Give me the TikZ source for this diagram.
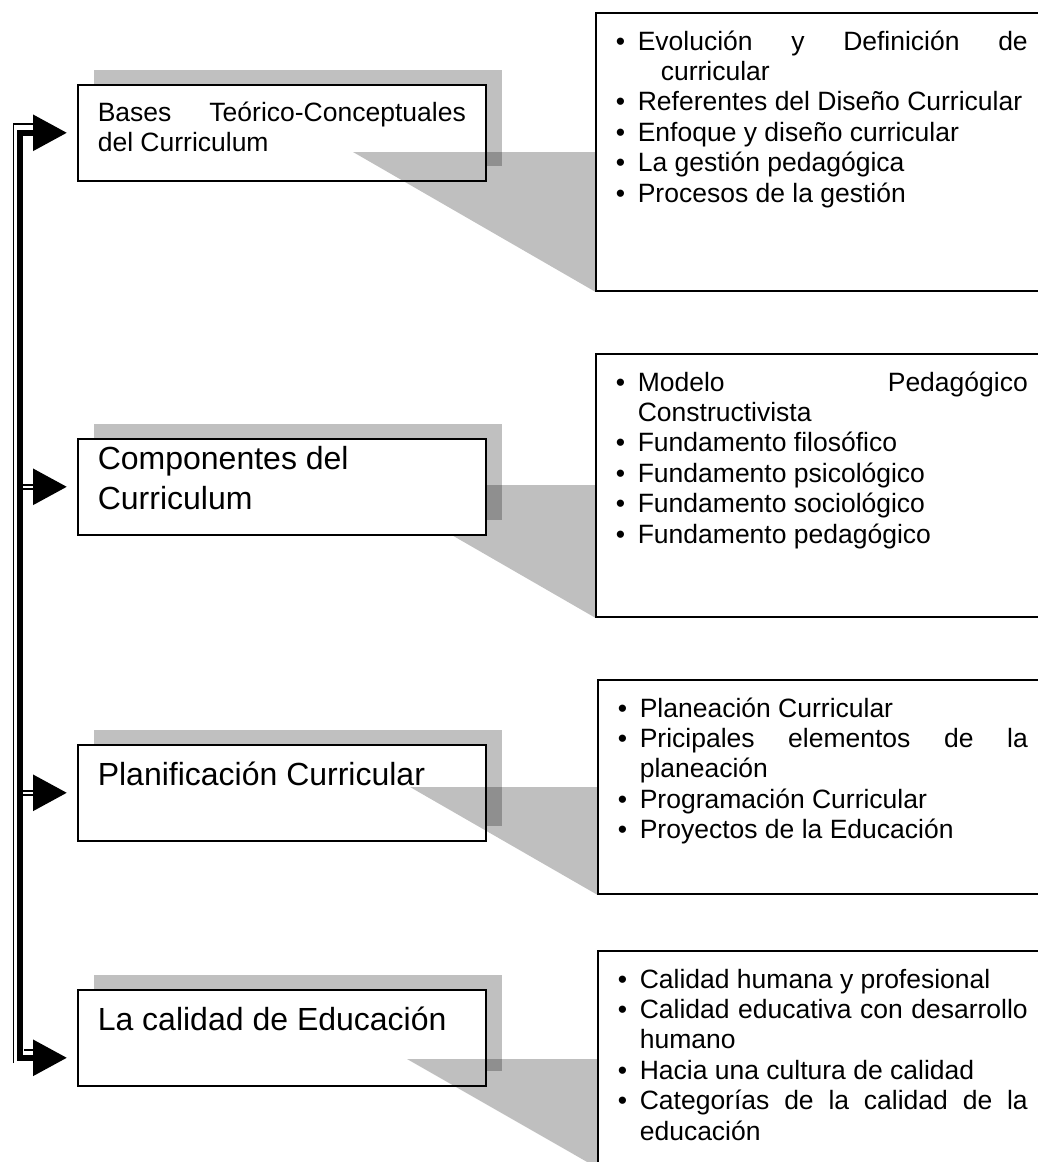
\documentclass[tikz,border=0pt]{standalone}
\usepackage{fontspec}
\setmainfont{Liberation Sans}
\usetikzlibrary{arrows.meta,shadows}
\definecolor{shadowgray}{RGB}{192,192,192}
\newcommand{\topbox}[4]{\parbox[c][#1][t]{#2}{\vspace*{#3}#4}}
\newcommand{\bitem}[1]{\par\noindent\hangindent=22pt\hangafter=1\makebox[22pt][l]{\textbullet}#1}
\hyphenpenalty=10000
\tolerance=10000

\begin{document}
\begin{tikzpicture}[x=1pt,y=-1pt,
  topic/.style={draw,line width=1.6pt,fill=white,anchor=north west,inner xsep=20pt,inner ysep=0pt,
    drop shadow={shadow xshift=16pt,shadow yshift=15pt,fill=shadowgray,opacity=1}},
  detail/.style={draw,line width=1.6pt,fill=white,anchor=north west,inner xsep=20pt,inner ysep=0pt},
  callout/.style={fill=black,fill opacity=0.25},
  spine/.style={line width=6pt,{Triangle[length=34pt,width=35pt]}-{Triangle[length=34pt,width=35pt]},
    shorten <=10pt,shorten >=10pt},
  link/.style={line width=6pt,-{Triangle[length=34pt,width=35pt]},shorten >=10pt}]
\useasboundingbox (0,0) rectangle (1038,1162);
\clip (0,0) rectangle (1038,1162);

% right hand boxes
\node[detail] (r1) at (595,12) {\topbox{278pt}{412pt}{16pt}{\fontsize{26.5}{30.4}\selectfont
  \bitem{\strut Evolución y Definición de\linebreak\hspace*{23pt}curricular}
  \bitem{Referentes del Diseño Curricular}
  \bitem{Enfoque y diseño curricular}
  \bitem{La gestión pedagógica}
  \bitem{Procesos de la gestión}}};
\node[detail] (r2) at (595,353) {\topbox{263pt}{412pt}{16pt}{\fontsize{26.5}{30.4}\selectfont
  \bitem{\strut Modelo Pedagógico\linebreak Constructivista}
  \bitem{Fundamento filosófico}
  \bitem{Fundamento psicológico}
  \bitem{Fundamento sociológico}
  \bitem{Fundamento pedagógico}}};
\node[detail] (r3) at (597,679) {\topbox{214pt}{410pt}{16pt}{\fontsize{26.5}{30.4}\selectfont
  \bitem{\strut Planeación Curricular}
  \bitem{Pricipales elementos de la\linebreak planeación}
  \bitem{Programación Curricular}
  \bitem{Proyectos de la Educación}}};
\node[detail] (r4) at (597,950) {\topbox{216pt}{410pt}{16pt}{\fontsize{26.5}{30.4}\selectfont
  \bitem{\strut Calidad humana y profesional}
  \bitem{Calidad educativa con desarrollo\linebreak humano}
  \bitem{Hacia una cultura de calidad}
  \bitem{Categorías de la calidad de la\linebreak educación}}};

% left hand boxes and callouts
\node[topic] (b1) at (77,84) {\topbox{96pt}{368pt}{16pt}{\fontsize{26.5}{30}\selectfont
  \strut Bases Teórico-Conceptuales\linebreak del Curriculum}};
\coordinate (t1) at (353,152);
\fill[callout] (t1) -- (t1 -| r1.west) -- (r1.south west) -- cycle;

\node[topic] (b2) at (77,438) {\topbox{96pt}{368pt}{2.5pt}{\fontsize{32}{40}\selectfont
  \strut Componentes del\\ Curriculum}};
\coordinate (t2) at (365,485);
\fill[callout] (t2 -| b2.east) -- (t2 -| r2.west) -- (r2.south west)
  -- (intersection of t2--r2.south west and b2.south west--b2.south east) -- (b2.south east) -- cycle;

\node[topic] (b3) at (77,744) {\topbox{96pt}{368pt}{15pt}{\fontsize{32}{36.8}\selectfont
  \strut Planificación Curricular}};
\coordinate (t3) at (410,787);
\fill[callout] (t3) -- (t3 -| r3.west) -- (r3.south west) -- cycle;

\node[topic] (b4) at (77,989) {\topbox{96pt}{368pt}{14.5pt}{\fontsize{32}{36.8}\selectfont
  \strut La calidad de Educación}};
\coordinate (t4) at (407,1059);
\fill[callout] (t4) -- (t4 -| r4.west) -- (r4.south west) -- cycle;

% bracket on the left
\coordinate (spinex) at (20,0);
\coordinate (p4) at ([yshift=-20pt]b4.west);
\draw[line width=1.5pt] (13.5,1063) -- (13.5,124) -- (33,124);
\draw[line width=1.5pt] (24,1050) -- (33,1050);
\draw[spine] (p4) -| (spinex |- b1.west) -- (b1.west);
\draw[link] (b2.west -| spinex) -- (b2.west);
\draw[white,line width=2pt] (b2.west -| spinex) ++(3,0) -- ++(10,0);
\draw[link] (b3.west -| spinex) -- (b3.west);
\draw[white,line width=2pt] (b3.west -| spinex) ++(3,0) -- ++(10,0);
\end{tikzpicture}
\end{document}
